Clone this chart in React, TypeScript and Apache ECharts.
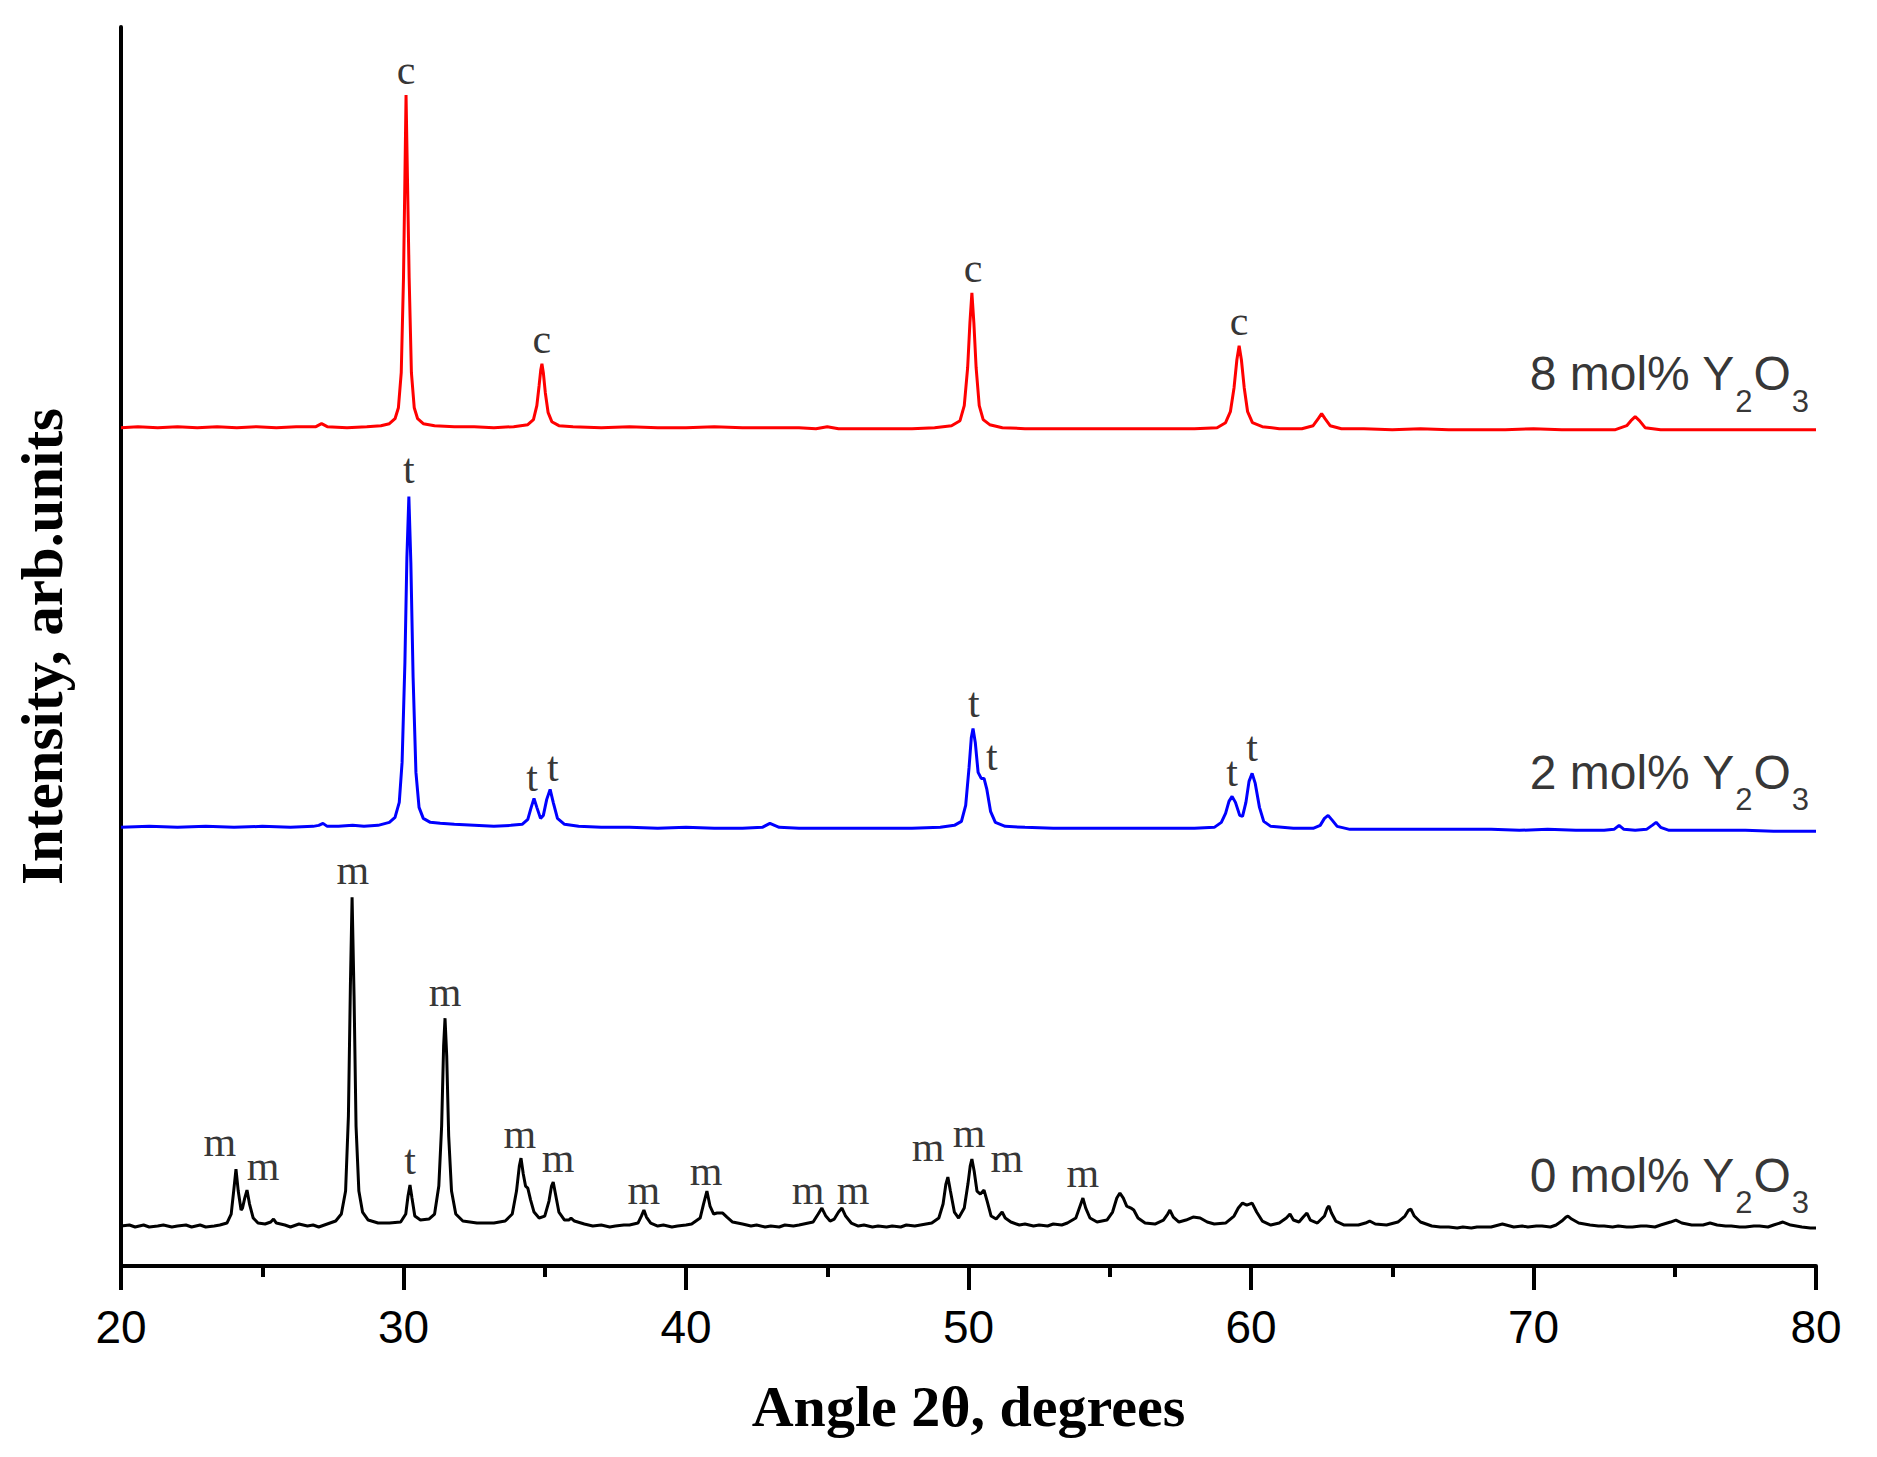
import React, { useEffect, useRef } from "react";
import * as echarts from "echarts";

// 2θ range and tick spacing
const X_MIN = 20;
const X_MAX = 80;
const X_INTERVAL = 10;
const Y_MAX = 1240;

// vertical offsets of the stacked patterns (arb. units)
const OFFSET_8 = 839;
const OFFSET_2 = 439;
const OFFSET_0 = 40;

// 8 mol% Y2O3 (cubic) pattern: [2θ, intensity above its baseline]
const pattern8: number[][] = [
  [20, 0], [20.6, 1], [21.3, 0], [22, 1], [22.7, 0], [23.4, 1], [24.1, 0], [24.8, 1], [25.5, 0], [26.2, 1],
  [26.9, 1], [27.1, 4], [27.3, 1], [28, 0], [28.7, 1], [29.2, 2],
  [29.5, 4], [29.7, 9], [29.82, 20], [29.92, 55], [30.0, 150], [30.05, 250], [30.09, 333], [30.14, 250],
  [30.2, 150], [30.28, 55], [30.38, 20], [30.5, 9], [30.7, 4], [31.1, 2], [31.8, 1], [32.5, 1], [33.2, 0],
  [33.9, 1], [34.4, 3],
  [34.6, 8], [34.72, 22], [34.8, 42], [34.86, 58], [34.9, 64], [34.95, 55], [35.02, 35], [35.12, 15],
  [35.25, 6], [35.5, 2], [36, 1], [37, 0], [38, 1], [39, 0], [40, 0], [41, 1], [42, 0], [43, 0], [44, 0],
  [44.6, -1], [45.0, 1], [45.4, -1], [46, -1], [47, -1], [48, -1], [48.8, 0], [49.4, 2],
  [49.7, 7], [49.85, 22], [49.97, 60], [50.05, 105], [50.12, 135], [50.19, 105], [50.27, 60], [50.38, 22],
  [50.52, 8], [50.75, 3], [51.2, 0], [52, -1], [53, -1], [54, -1], [55, -1], [56, -1], [57, -1], [58, -1],
  [58.8, 0],
  [59.1, 5], [59.27, 16], [59.4, 40], [59.5, 68], [59.58, 82], [59.66, 68], [59.76, 40], [59.88, 16],
  [60.05, 5], [60.4, 1], [61, -1], [61.8, -1],
  [62.2, 2], [62.38, 9], [62.5, 14], [62.62, 9], [62.8, 2], [63.2, -1], [64, -1], [65, -2], [66, -1],
  [67, -2], [68, -2], [69, -2], [70, -1], [71, -2], [72, -2], [72.9, -2],
  [73.3, 2], [73.45, 7], [73.6, 11], [73.75, 7], [73.95, 0], [74.5, -2], [75.5, -2], [76.5, -2],
  [77.5, -2], [78.5, -2], [79.5, -2], [80, -2],
];

// 2 mol% Y2O3 (tetragonal) pattern
const pattern2: number[][] = [
  [20, 0], [21, 1], [22, 0], [23, 1], [24, 0], [25, 1], [26, 0], [26.8, 1], [27.0, 2], [27.15, 4],
  [27.3, 1], [27.7, 1], [28.2, 2], [28.6, 1], [29.1, 2],
  [29.5, 5], [29.7, 10], [29.85, 25], [29.95, 65], [30.05, 165], [30.12, 270], [30.19, 331], [30.26, 265],
  [30.34, 150], [30.44, 55], [30.55, 20], [30.7, 9], [30.95, 5], [31.3, 4], [31.8, 3], [32.5, 2],
  [33.2, 1], [33.8, 2], [34.2, 3],
  [34.4, 8], [34.52, 20], [34.62, 29], [34.72, 20], [34.85, 9], [34.95, 12], [35.07, 28], [35.19, 38],
  [35.3, 25], [35.45, 9], [35.7, 3], [36.2, 1], [37, 0], [38, 0], [39, -1], [40, 0], [41, -1], [42, -1],
  [42.7, 0], [42.97, 4], [43.3, 0], [44, -1], [45, -1], [46, -1], [47, -1], [48, -1], [49, 0], [49.5, 2],
  [49.75, 6], [49.9, 22], [50.02, 60], [50.1, 90], [50.16, 99], [50.24, 85], [50.34, 55], [50.45, 49],
  [50.55, 49], [50.65, 38], [50.78, 16], [50.95, 5], [51.3, 1], [52, 0], [53, -1], [54, -1], [55, -1],
  [56, -1], [57, -1], [58, -1], [58.7, 0],
  [58.95, 5], [59.1, 14], [59.22, 26], [59.33, 31], [59.45, 25], [59.6, 12], [59.7, 11], [59.82, 25],
  [59.93, 46], [60.04, 54], [60.15, 44], [60.3, 20], [60.45, 6], [60.7, 1], [61.5, -1], [62.2, -1],
  [62.45, 2], [62.6, 9], [62.73, 12], [62.88, 7], [63.05, 1], [63.5, -2], [64.5, -2], [65.5, -2],
  [66.5, -2], [67.5, -2], [68.5, -2], [69.5, -3], [70.5, -2], [71.5, -3], [72.5, -3],
  [72.85, -2], [73.03, 2], [73.2, -2], [73.6, -3], [74.0, -2], [74.2, 2], [74.34, 5], [74.5, 0],
  [74.8, -3], [75.5, -3], [76.5, -3], [77.5, -3], [78.5, -4], [79.5, -4], [80, -4],
];

// 0 mol% Y2O3 (monoclinic) pattern
const pattern0: number[][] = [
  [20, 0], [20.3, 1], [20.5, -1], [20.8, 1], [21, -1], [21.3, 0], [21.5, 1], [21.8, -1], [22, 0],
  [22.3, 1], [22.5, -1], [22.8, 1], [23, -1], [23.3, 0], [23.5, 1],
  [23.75, 3], [23.9, 12], [24.0, 38], [24.07, 57], [24.15, 35], [24.25, 16], [24.3, 18], [24.38, 28],
  [24.46, 36], [24.55, 22], [24.68, 8], [24.85, 3], [25.1, 2],
  [25.3, 4], [25.4, 7], [25.5, 3], [25.8, 1], [26.0, -1], [26.3, 2], [26.6, 0], [26.8, 1], [27.0, -1],
  [27.3, 2],
  [27.6, 5], [27.8, 12], [27.95, 35], [28.05, 110], [28.12, 240], [28.18, 329], [28.25, 230], [28.32, 100],
  [28.42, 35], [28.55, 14], [28.75, 6], [29.1, 3], [29.5, 3], [29.9, 4],
  [30.08, 12], [30.16, 30], [30.23, 41], [30.3, 28], [30.4, 10], [30.6, 6], [30.9, 7],
  [31.1, 12], [31.25, 40], [31.35, 100], [31.42, 180], [31.47, 208], [31.53, 170], [31.6, 90], [31.7, 35],
  [31.85, 12], [32.1, 5], [32.6, 3], [33.2, 3], [33.6, 5],
  [33.85, 12], [34.0, 35], [34.1, 60], [34.16, 68], [34.24, 52], [34.32, 40], [34.4, 38], [34.5, 26],
  [34.62, 14], [34.8, 8], [35.0, 10],
  [35.15, 25], [35.24, 40], [35.3, 44], [35.38, 32], [35.5, 14], [35.7, 6],
  [35.85, 6], [35.93, 8], [36.05, 5], [36.4, 2], [36.7, 0], [37, 1], [37.3, -1], [37.5, 0], [37.8, 1], [38, 1],
  [38.3, 3], [38.42, 10], [38.51, 16], [38.6, 9], [38.75, 3], [39.0, 0], [39.2, 1], [39.5, -1], [39.7, 0],
  [40.0, 1], [40.2, 2],
  [40.5, 8], [40.62, 22], [40.74, 35], [40.85, 20], [40.98, 12], [41.1, 13], [41.3, 13], [41.45, 9],
  [41.65, 4], [42, 2], [42.3, 0], [42.5, 1], [42.8, -1], [43, 0], [43.3, -1], [43.5, 1], [43.8, 0], [44, 1],
  [44.5, 4], [44.68, 12], [44.81, 18], [44.95, 10], [45.1, 5], [45.25, 7], [45.4, 14], [45.52, 18],
  [45.65, 10], [45.85, 3], [46.1, 0], [46.3, 1], [46.6, -1], [46.8, 0], [47.1, -1], [47.3, 0], [47.6, -1],
  [47.8, 1], [48.1, 0], [48.3, 1], [48.7, 3],
  [48.95, 8], [49.1, 22], [49.2, 42], [49.27, 49], [49.36, 35], [49.5, 14], [49.65, 8],
  [49.85, 18], [49.98, 42], [50.06, 60], [50.12, 67], [50.2, 55], [50.3, 35], [50.42, 32], [50.55, 36],
  [50.66, 25], [50.8, 10], [50.98, 7],
  [51.1, 11], [51.19, 14], [51.3, 8], [51.5, 4], [51.8, 1], [52, 2], [52.3, 0], [52.5, 1], [52.8, 0],
  [53, 2], [53.3, 1], [53.5, 3],
  [53.8, 8], [53.95, 20], [54.05, 28], [54.15, 18], [54.3, 8], [54.55, 4], [54.9, 6],
  [55.1, 14], [55.25, 28], [55.36, 33], [55.48, 28], [55.6, 20], [55.75, 18], [55.85, 16], [56.0, 8],
  [56.25, 3], [56.6, 2], [56.9, 6],
  [57.05, 12], [57.13, 16], [57.25, 9], [57.45, 4], [57.7, 6], [57.95, 9], [58.2, 8], [58.45, 4],
  [58.7, 2], [59.1, 3],
  [59.4, 10], [59.55, 18], [59.7, 23], [59.85, 21], [60.04, 23], [60.2, 14], [60.4, 5], [60.7, 1], [61.0, 3],
  [61.25, 8], [61.38, 12], [61.5, 6], [61.7, 4], [61.85, 9], [61.98, 13], [62.1, 6], [62.35, 3],
  [62.6, 10], [62.7, 18], [62.76, 20], [62.85, 13], [63.0, 5], [63.3, 1], [63.8, 1],
  [64.05, 3], [64.2, 5], [64.4, 2], [64.8, 1], [65.2, 4],
  [65.45, 10], [65.58, 16], [65.66, 17], [65.78, 10], [66.0, 4], [66.4, 0], [66.7, -1], [67, -1],
  [67.3, -2], [67.5, -1], [67.8, -2], [68, -1], [68.3, -1], [68.5, -1], [68.9, 2], [69.3, -1], [69.6, 0],
  [69.8, -1], [70.1, 0], [70.3, 0], [70.6, -1], [70.8, 1],
  [71.0, 5], [71.15, 9], [71.22, 10], [71.35, 7], [71.6, 3], [72, 1], [72.3, 0], [72.5, 0], [72.8, -1],
  [73, 0], [73.3, -1], [73.5, -1], [73.8, 0], [74, 0], [74.3, -1], [74.5, 1],
  [74.85, 4], [75.04, 6], [75.25, 3], [75.6, 1], [76.0, 1], [76.25, 3], [76.5, 1], [76.8, 0], [77, 0],
  [77.3, -1], [77.5, -1], [77.8, 0], [78, 0], [78.3, -1], [78.5, 1], [78.83, 4], [79.1, 1], [79.3, 0],
  [79.5, -1], [79.8, -2], [80, -2],
];

// phase markers: [2θ, absolute y, letter]
const markers8: (number | string)[][] = [
  [30.09, 1197, "c"], [34.9, 928, "c"], [50.16, 999, "c"], [59.58, 946, "c"],
];
const markers2: (number | string)[][] = [
  [30.19, 798, "t"], [34.55, 489, "t"], [35.29, 499, "t"], [50.19, 563, "t"], [50.83, 510, "t"],
  [59.33, 494, "t"], [60.04, 519, "t"],
];
const markers0: (number | string)[][] = [
  [23.5, 124, "m"], [25.03, 100, "m"], [28.21, 396, "m"], [30.23, 106, "t"], [31.47, 274, "m"],
  [34.12, 132, "m"], [35.47, 108, "m"], [38.51, 76, "m"], [40.71, 95, "m"], [44.32, 76, "m"],
  [45.91, 76, "m"], [48.57, 119, "m"], [50.02, 133, "m"], [51.36, 108, "m"], [54.05, 93, "m"],
];

// sample labels: [2θ anchor, y anchor, concentration]
const sampleLabels: (number | string)[][] = [
  [79.79, 917, "8"], [79.79, 518, "2"], [79.79, 115, "0"],
];

const RED = "#ff0000";
const BLUE = "#0000ff";
const BLACK = "#000000";

function shift(p: number[][], off: number) {
  return p.map(([x, y]) => [x, y + off]);
}

export default function App() {
  const ref = useRef<HTMLDivElement>(null);
  useEffect(() => {
    if (!ref.current) return;
    const chart = echarts.init(ref.current, undefined, { renderer: "svg" });
    const lineSeries = (name: string, data: number[][], color: string) => ({
      name,
      type: "line",
      data,
      showSymbol: false,
      symbol: "none",
      silent: true,
      lineStyle: { color, width: 3 },
      z: 2,
    });
    const markerSeries = (data: (number | string)[][]) => ({
      type: "scatter",
      silent: true,
      symbolSize: 1,
      itemStyle: { color: "rgba(0,0,0,0)" },
      data: data.map(([x, y, t]) => ({ value: [x, y], name: t })),
      label: {
        show: true,
        position: "inside",
        formatter: (p: any) => p.name,
        fontFamily: "Liberation Serif, Times New Roman, serif",
        fontSize: 42,
        color: "#000",
        align: "center",
        verticalAlign: "middle",
      },
      z: 5,
    });
    chart.setOption({
      animation: false,
      backgroundColor: "#ffffff",
      grid: { left: 121, right: 61, top: 27, bottom: 191 },
      xAxis: {
        type: "value",
        min: X_MIN,
        max: X_MAX,
        interval: X_INTERVAL,
        name: "Angle 2θ, degrees",
        nameLocation: "middle",
        nameGap: 111,
        nameTextStyle: {
          fontFamily: "Liberation Serif, Times New Roman, serif",
          fontWeight: "bold",
          fontSize: 58,
          color: "#000",
        },
        axisLine: { show: true, lineStyle: { color: BLACK, width: 4 } },
        axisTick: { show: true, inside: false, length: 24, lineStyle: { color: BLACK, width: 4 } },
        minorTick: { show: true, splitNumber: 2, length: 11, lineStyle: { color: BLACK, width: 4 } },
        axisLabel: {
          fontFamily: "Liberation Sans, Arial, sans-serif",
          fontSize: 46,
          color: "#000",
          margin: 38,
        },
        splitLine: { show: false },
      },
      yAxis: {
        type: "value",
        min: 0,
        max: Y_MAX,
        name: "Intensity, arb.units",
        nameLocation: "middle",
        nameRotate: 90,
        nameGap: 50,
        nameTextStyle: {
          fontFamily: "Liberation Serif, Times New Roman, serif",
          fontWeight: "bold",
          fontSize: 59,
          color: "#000",
        },
        axisLine: { show: true, lineStyle: { color: BLACK, width: 4 } },
        axisTick: { show: false },
        axisLabel: { show: false },
        splitLine: { show: false },
      },
      series: [
        lineSeries("8 mol%", shift(pattern8, OFFSET_8), RED),
        lineSeries("2 mol%", shift(pattern2, OFFSET_2), BLUE),
        lineSeries("0 mol%", shift(pattern0, OFFSET_0), BLACK),
        markerSeries(markers8),
        markerSeries(markers2),
        markerSeries(markers0),
        {
          type: "scatter",
          silent: true,
          symbolSize: 1,
          itemStyle: { color: "rgba(0,0,0,0)" },
          data: sampleLabels.map(([x, y, c]) => ({ value: [x, y], name: c })),
          label: {
            show: true,
            position: "inside",
            align: "right",
            verticalAlign: "top",
            formatter: (p: any) => `{a|${p.name} mol% Y}{s|2}{a|O}{s|3}`,
            rich: {
              a: {
                fontFamily: "Liberation Sans, Arial, sans-serif",
                fontSize: 48,
                lineHeight: 48,
                verticalAlign: "top",
                color: "#000",
              },
              s: {
                fontFamily: "Liberation Sans, Arial, sans-serif",
                fontSize: 31,
                verticalAlign: "top",
                padding: [36, 1, 0, 1],
                color: "#000",
              },
            },
          },
          z: 5,
        },
      ],
    });
    return () => chart.dispose();
  }, []);
  return (
    <div
      ref={ref}
      style={{ position: "absolute", left: 0, top: 0, width: 1877, height: 1457, background: "#fff" }}
    />
  );
}
